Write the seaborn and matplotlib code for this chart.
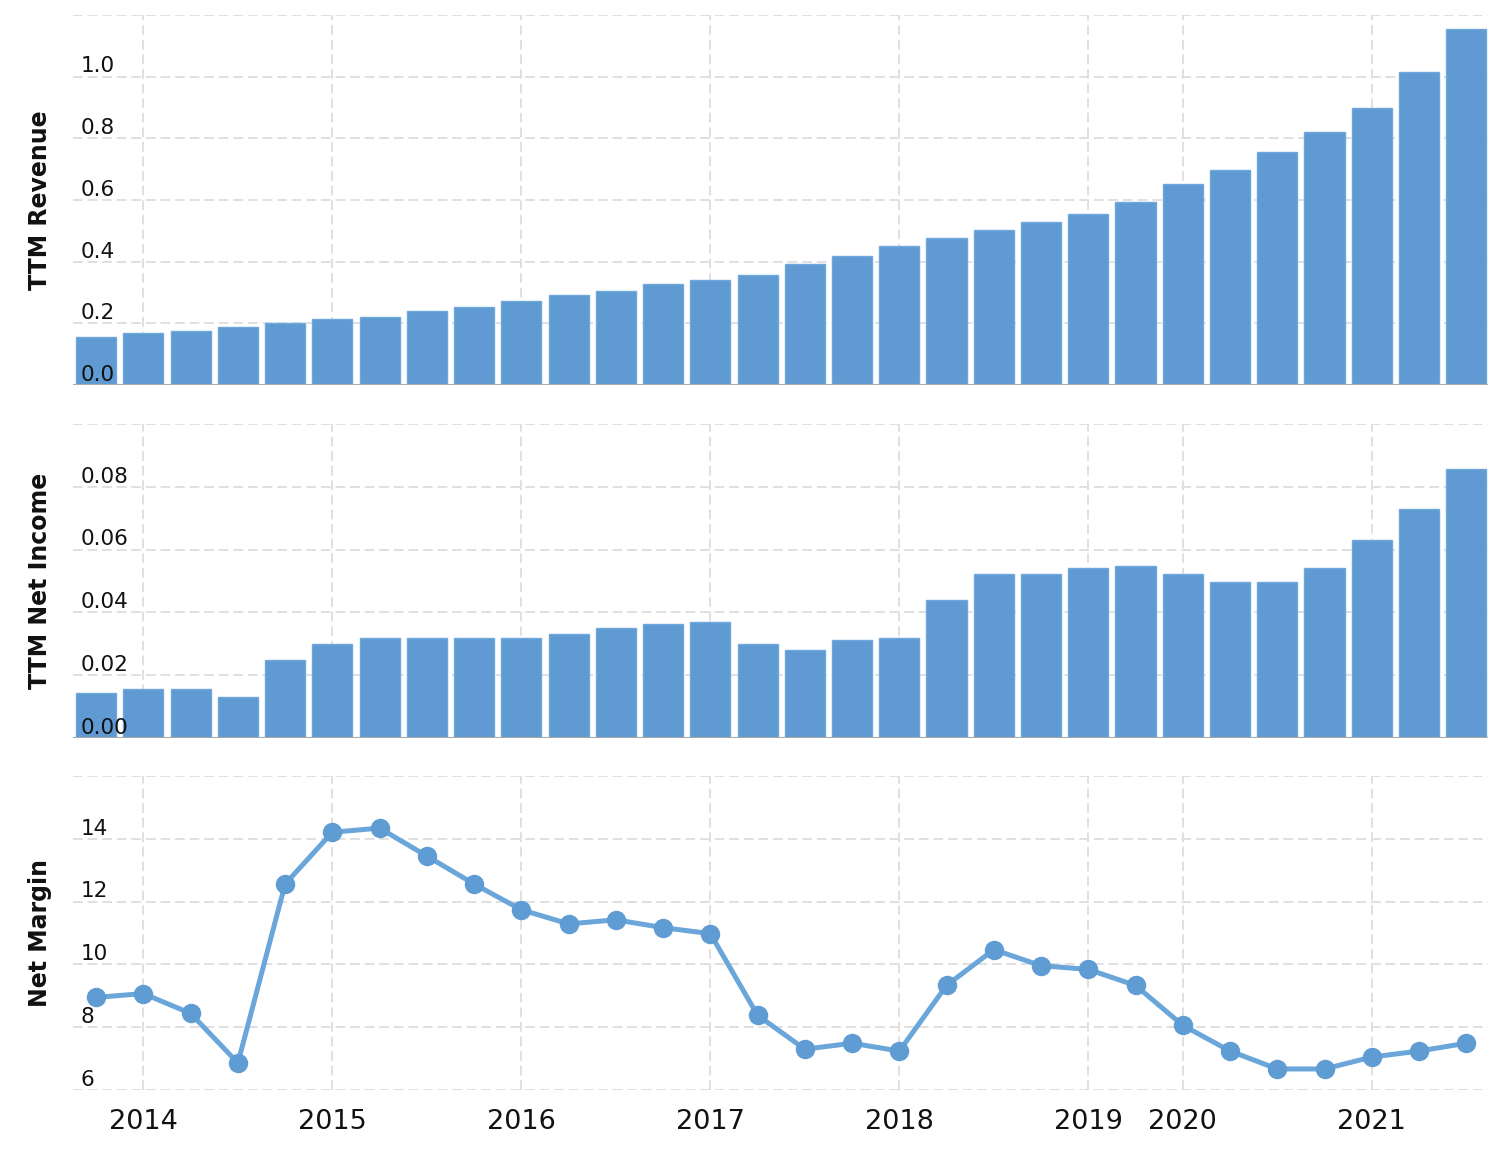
import matplotlib
matplotlib.use("Agg")
import matplotlib.pyplot as plt
import matplotlib.transforms as mtransforms
import seaborn as sns
import pandas as pd
import numpy as np

# ---------------- data ----------------
quarters = ["Q%02d" % i for i in range(30)]
revenue = [0.156, 0.169, 0.176, 0.189, 0.202, 0.215, 0.221, 0.241, 0.254, 0.274,
           0.293, 0.306, 0.326, 0.339, 0.358, 0.391, 0.417, 0.450, 0.476, 0.502,
           0.528, 0.554, 0.593, 0.651, 0.697, 0.756, 0.821, 0.899, 1.016, 1.153]
net_income = [0.0142, 0.0155, 0.0155, 0.0130, 0.0250, 0.0300, 0.0319, 0.0319, 0.0319, 0.0319,
              0.0332, 0.0351, 0.0363, 0.0370, 0.0300, 0.0281, 0.0313, 0.0319, 0.0439, 0.0521,
              0.0521, 0.0540, 0.0547, 0.0521, 0.0496, 0.0496, 0.0540, 0.0629, 0.0730, 0.0856]
net_margin = [8.95, 9.07, 8.44, 6.86, 12.56, 14.21, 14.34, 13.45, 12.56, 11.74,
              11.29, 11.42, 11.17, 10.98, 8.38, 7.30, 7.49, 7.24, 9.33, 10.47,
              9.96, 9.84, 9.33, 8.06, 7.24, 6.67, 6.67, 7.05, 7.24, 7.49]
year_tick_pos = [1, 5, 9, 13, 17, 21, 23, 27]
year_tick_labels = ["2014", "2015", "2016", "2017", "2018", "2019", "2020", "2021"]

rev_ticks = [0.0, 0.2, 0.4, 0.6, 0.8, 1.0, 1.2]
rev_labels = ["0.0", "0.2", "0.4", "0.6", "0.8", "1.0"]
ni_ticks = [0.00, 0.02, 0.04, 0.06, 0.08, 0.10]
ni_labels = ["0.00", "0.02", "0.04", "0.06", "0.08"]
nm_ticks = [6, 8, 10, 12, 14, 16]
nm_labels = ["6", "8", "10", "12", "14"]

df = pd.DataFrame({"pos": np.arange(len(quarters)), "quarter": quarters,
                   "revenue": revenue, "net_income": net_income, "net_margin": net_margin})

# ---------------- style ----------------
sns.set_style("white")
plt.rcParams["font.family"] = ["DejaVu Sans"]

BAR = "#5f9bd2"
BAR_EDGE = "#6ea8dc"
LINE = "#6aa6d9"
GRID = "#e0e0e0"

W, H = 1512, 1167
fig = plt.figure(figsize=(W / 100, H / 100), dpi=100)

def frac_axes(top, bottom, left=73, right=1488):
    return fig.add_axes([left / W, 1 - bottom / H, (right - left) / W, (bottom - top) / H])

ax1 = frac_axes(15, 385)
ax2 = frac_axes(424, 738)
ax3 = frac_axes(776, 1090)

XLIM = (-0.49, 29.46)

def style_axis(ax, yticks, ylabels, ylim, title, baseline):
    ax.set_xlim(*XLIM)
    ax.set_ylim(*ylim)
    for s in ax.spines.values():
        s.set_visible(False)
    ax.set_yticks(yticks)
    ax.set_xticks(year_tick_pos)
    ax.tick_params(axis="both", length=0, labelleft=False, labelbottom=False)
    ax.grid(True, color=GRID, linestyle=(0, (5, 2.5)), linewidth=1.4)
    ax.set_axisbelow(True)
    ax.set_ylabel(title, fontsize=17, fontweight="bold", color="#111111")
    ax.yaxis.set_label_coords(-0.015, 0.5)
    trans = mtransforms.blended_transform_factory(ax.transAxes, ax.transData)
    for v, lab in zip(yticks, ylabels):
        ax.annotate(lab, xy=(0.0055, v), xycoords=trans, xytext=(0, 3),
                    textcoords="offset points", ha="left", va="baseline",
                    fontsize=15.5, color="#111111", zorder=10, annotation_clip=False)
    if baseline:
        ax.axhline(0, color="#a9a9a9", linewidth=1.5, zorder=3)

# top: revenue bars
sns.barplot(data=df, x="pos", y="revenue", ax=ax1, color=BAR, width=0.85,
            edgecolor=BAR_EDGE, linewidth=1, saturation=1, native_scale=True)
style_axis(ax1, rev_ticks, rev_labels, (0, 1.2), "TTM Revenue", True)
ax1.set_xlabel("")

# middle: net income bars
sns.barplot(data=df, x="pos", y="net_income", ax=ax2, color=BAR, width=0.85,
            edgecolor=BAR_EDGE, linewidth=1, saturation=1, native_scale=True)
style_axis(ax2, ni_ticks, ni_labels, (0, 0.10), "TTM Net Income", True)
ax2.set_xlabel("")

# bottom: net margin line
sns.lineplot(data=df, x="pos", y="net_margin", ax=ax3, color=LINE, linewidth=3.6,
             marker="o", markersize=14, markerfacecolor="#5f9cd3",
             markeredgecolor="#5f9cd3", markeredgewidth=0, zorder=4)
style_axis(ax3, nm_ticks, nm_labels, (6, 16), "Net Margin", False)
ax3.set_xlabel("")
ax3.tick_params(axis="x", labelbottom=True, labelsize=19.5, pad=14, labelcolor="#111111")
ax3.set_xticks(year_tick_pos)
ax3.set_xticklabels(year_tick_labels)
for a in (ax1, ax2, ax3):
    a.set_xlim(*XLIM)

fig.savefig("out.png", dpi=100)
